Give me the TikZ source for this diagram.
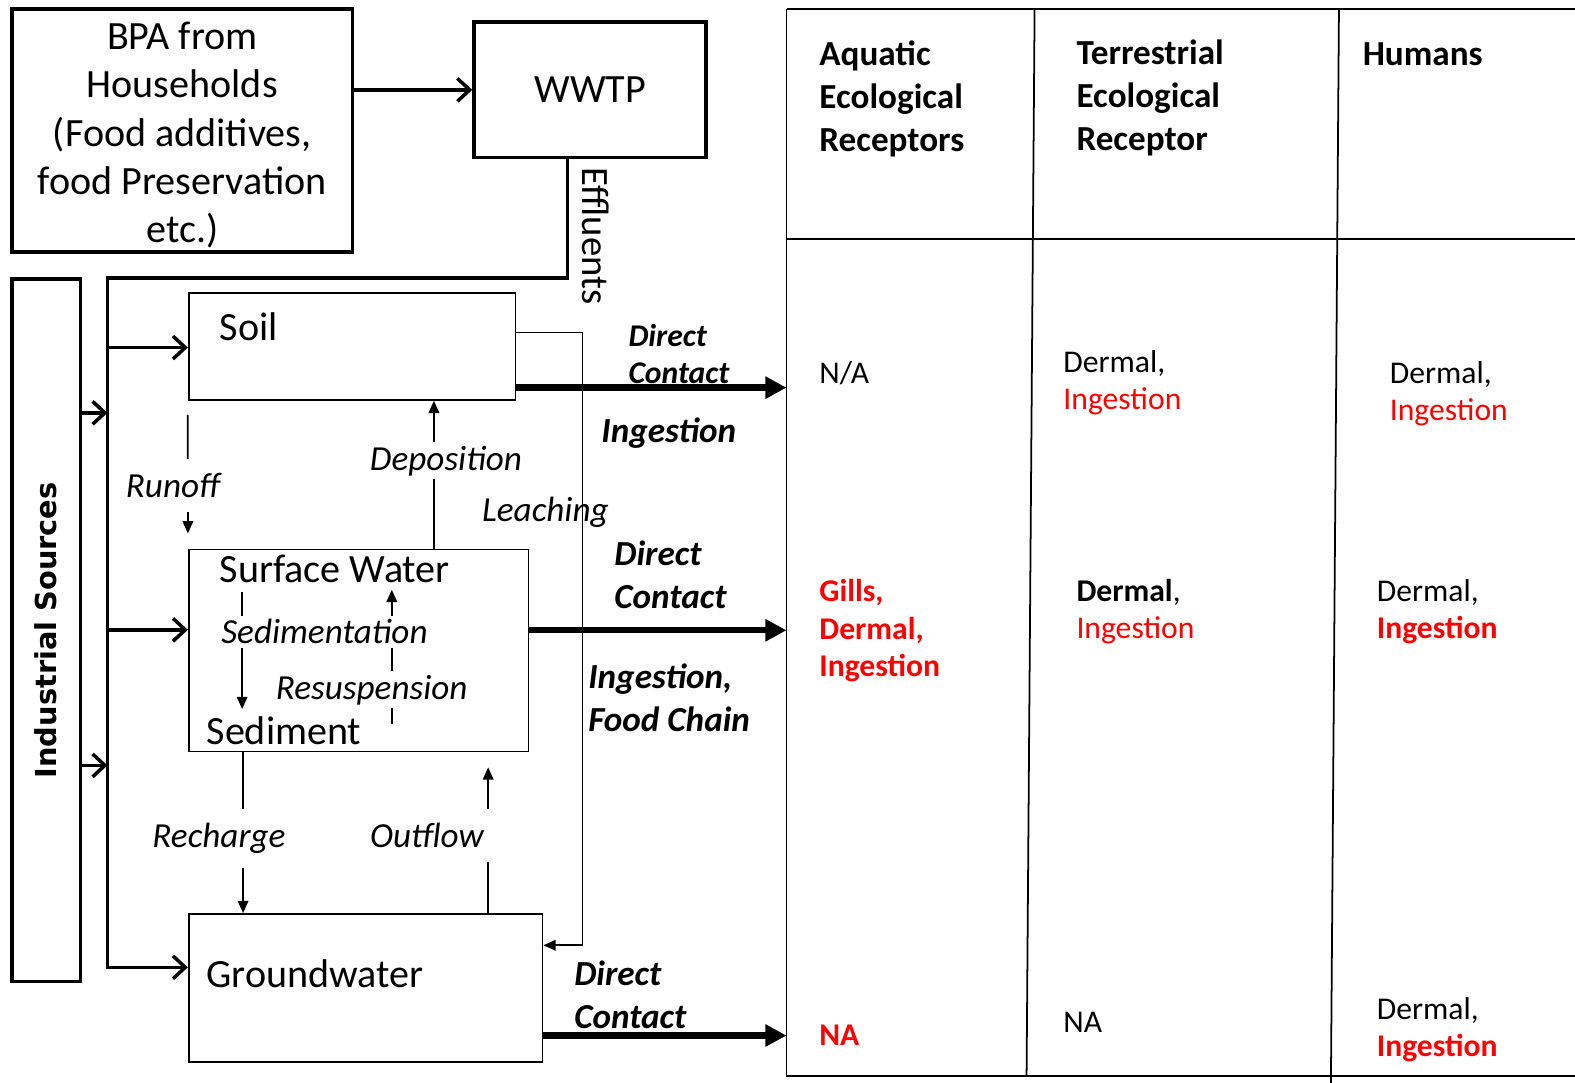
\documentclass[tikz,border=0pt]{standalone}
\usepackage{fontspec}
\setmainfont{Carlito}
\newfontfamily\widesans{DejaVu Sans}
\usepackage{xcolor}
\usetikzlibrary{arrows.meta,calc}

\definecolor{hilite}{RGB}{255,0,0}

\tikzset{
  source/.style={draw, line width=1pt, inner sep=0pt, align=center,
    font=\fontsize{11.4}{13.7}\selectfont},
  comp/.style={draw, line width=0.5pt, inner sep=0pt},
  comptext/.style={anchor=base west, inner sep=0pt, font=\fontsize{11.4}{13.7}\selectfont},
  feed/.style={line width=1pt, -{Straight Barb[length=3.5pt,width=6.5pt]}},
  trans/.style={line width=0.5pt, -{Triangle[length=3.5pt,width=3pt]}},
  translabel/.style={font=\fontsize{10}{12}\selectfont\itshape, fill=white,
    inner sep=1pt, anchor=base},
  expo/.style={line width=1.8pt, -{Triangle[length=6pt,width=6pt]}},
  route/.style={font=\fontsize{10}{12.2}\selectfont\bfseries\itshape, align=left,
    inner sep=0pt, anchor=north west},
  grid/.style={line width=0.5pt},
  head/.style={font=\fontsize{10}{12.2}\selectfont\bfseries, align=left,
    inner sep=0pt, anchor=north west},
  cell/.style={font=\fontsize{9}{10.5}\selectfont, align=left,
    inner sep=0pt, anchor=north west},
}

\begin{document}
\begin{tikzpicture}[x=0.010045cm,y=-0.010045cm]
  \useasboundingbox (0,0) rectangle (1568,1078);

  % sources
  \node[source, minimum width=3.405cm, minimum height=2.431cm] (bpa) at (181.5,130) {};
  \node[align=center, inner sep=0pt, font=\fontsize{11.4}{13.7}\selectfont] (bpatxt) at (181.5,134.5)
    {BPA from\\Households\\(Food additives,\\food Preservation\\etc.)};
  \node[source, minimum width=2.320cm, minimum height=1.356cm] (wwtp) at (587.5,89.5) {WWTP};
  \node[source, rotate=90, minimum width=7.021cm, minimum height=0.683cm,
    font=\widesans\bfseries\fontsize{8.2}{10}\selectfont] (ind) at (46,627.5) {Industrial Sources};

  \draw[feed] (wwtp.west -| bpa.east) -- (wwtp.west);

  % compartments
  \node[comp, minimum width=3.265cm, minimum height=1.065cm] (soil) at (350.5,345) {};
  \node[comp, minimum width=3.395cm, minimum height=2.019cm] (sw) at (357,647.5) {};
  \node[comp, minimum width=3.536cm, minimum height=1.477cm] (gw) at (364,983.5) {};
  \node[comptext] (soiltxt) at (218,339) {Soil};
  \node[comptext] (swtxt) at (218,580) {Surface Water};
  \node[comptext] (sedtxt) at (205,741) {Sediment};
  \node[comptext] (gwtxt) at (205,983) {Groundwater};

  % effluents and the feed line
  \coordinate (effx) at (565,0);
  \coordinate (spinetop) at (107,277);
  \coordinate (spinebot) at (107,963);
  \draw[feed] (wwtp.south -| effx) |- (spinetop) -- (spinebot) -- (spinebot -| gw.west);
  \node[font=\fontsize{11}{13}\selectfont, rotate=-90, inner sep=0pt] (eff) at (593,235) {Effluents};

  \coordinate (b1) at (107,346);
  \coordinate (b2) at (107,627);
  \draw[feed] (b1) -- (b1 -| soil.west);
  \draw[feed] (b2) -- (b2 -| sw.west);

  \coordinate (j1) at (107,411);
  \coordinate (j2) at (107,762);
  \draw[feed] (ind.south |- j1) -- (j1);
  \draw[feed] (ind.south |- j2) -- (j2);

  % transfers between compartments
  \coordinate (depx) at (432,0);
  \coordinate (rchx) at (242,0);
  \coordinate (outx) at (486,0);
  \coordinate (lch) at (580,331);
  \draw[trans] ($(soil.south west)+(0,14)$) -- ($(sw.north west)+(0,-15)$);
  \draw[trans] (sw.north -| depx) -- (soil.south -| depx);
  \draw[trans] ($(sw.north west)+(54,43)$) -- ($(sw.south west)+(54,-43)$);
  \draw[trans] ($(sw.south west)+(203,-28)$) -- ($(sw.north west)+(203,41)$);
  \draw[trans] (sw.south -| rchx) -- (gw.north -| rchx);
  \draw[trans] (gw.north -| outx) -- ($(sw.south -| outx)+(0,15)$);
  \draw[trans] (soil.east |- lch) -- (lch) |- ($(gw.north east)+(0,32)$);

  \node[translabel, inner ysep=4pt] (runoff) at (172,495) {Runoff};
  \node[translabel] (depo) at (444,468) {Deposition};
  \node[translabel, fill=none] (leach) at (543,519) {Leaching};
  \node[translabel] (sedi) at (323,641) {Sedimentation};
  \node[translabel] (resus) at (370,696) {Resuspension};
  \node[translabel, inner ysep=4pt] (rech) at (218,844) {Recharge};
  \node[translabel, inner ysep=4pt, inner xsep=2pt] (outf) at (425,844) {Outflow};

  % exposure routes
  \coordinate (tabNW) at (783,9);
  \coordinate (e1) at ($(soil.south east)+(0,-13)$);
  \coordinate (e2) at ($(sw.east)+(0,-20)$);
  \coordinate (e3) at ($(gw.south east)+(0,-27)$);
  \draw[expo] (e1) -- (e1 -| tabNW);
  \draw[expo] (e2) -- (e2 -| tabNW);
  \draw[expo] (e3) -- (e3 -| tabNW);

  \node[route, font=\fontsize{9}{10.5}\selectfont\bfseries\itshape] (dc1) at (625,322) {Direct\\Contact};
  \node[route, anchor=base west] (ing1) at (598,441) {Ingestion};
  \node[route] (dc2) at (611,538) {Direct\\Contact};
  \node[route] (ing2) at (585,660) {Ingestion,\\Food Chain};
  \node[route] (dc3) at (571,956) {Direct\\Contact};

  % receptor table
  \draw[grid] (tabNW) -- (1568,9);
  \draw[grid] (tabNW) -- (783,1071) -- (1568,1071);
  \draw[grid] (783,238) -- (1568,238);
  \draw[grid] (1030,9) -- (1022,1071);
  \draw[grid] (1333,9) -- (1325,1078);

  \node[head] (aqhead) at (815,40) {Aquatic\\Ecological\\Receptors};
  \node[head] (tehead) at (1071,39) {Terrestrial\\Ecological\\Receptor};
  \node[head, anchor=base west] (huhead) at (1356,65) {Humans};

  \node[cell, anchor=base west] (aq1) at (815,382) {N/A};
  \node[cell] (te1) at (1058,348) {Dermal,\\\textcolor{hilite}{Ingestion}};
  \node[cell] (hu1) at (1383,359) {Dermal,\\\textcolor{hilite}{Ingestion}};

  \node[cell, font=\fontsize{9}{10.7}\selectfont\bfseries, text=hilite] (aq2) at (815,576) {Gills,\\Dermal,\\Ingestion};
  \node[cell] (te2) at (1071,576) {\textbf{Dermal},\\\textcolor{hilite}{Ingestion}};
  \node[cell] (hu2) at (1370,576) {Dermal,\\\textcolor{hilite}{\textbf{Ingestion}}};

  \node[cell, anchor=base west, font=\fontsize{9}{10.5}\selectfont\bfseries, text=hilite] (aq3) at (815,1041) {NA};
  \node[cell, anchor=base west] (te3) at (1058,1028) {NA};
  \node[cell] (hu3) at (1370,992) {Dermal,\\\textcolor{hilite}{\textbf{Ingestion}}};
\end{tikzpicture}
\end{document}
